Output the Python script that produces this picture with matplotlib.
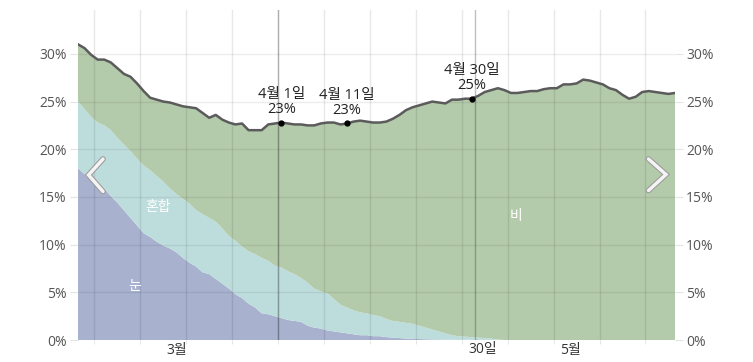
import numpy as np
import matplotlib
matplotlib.use("Agg")
import matplotlib.pyplot as plt
from matplotlib.lines import Line2D
import matplotlib.patheffects as pe

plt.rcParams['font.family'] = ['Open Sans', 'Noto Sans CJK KR', 'DejaVu Sans']

# day 0 = 3월 1일 ... day 91 = 5월 31일, values in %
snow_pct = [18.0, 17.4, 16.9, 16.4, 15.9, 15.1, 14.4, 13.6, 12.8, 12.0,
            11.2, 10.8, 10.3, 9.9, 9.6, 9.2, 8.6, 8.1, 7.7, 7.1,
            6.9, 6.4, 5.9, 5.4, 4.8, 4.4, 3.8, 3.4, 2.8, 2.7,
            2.5, 2.3, 2.1, 2.0, 1.9, 1.5, 1.3, 1.2, 1.0, 0.9,
            0.8, 0.7, 0.6, 0.5, 0.5, 0.4, 0.4, 0.3, 0.25, 0.2,
            0.15, 0.12, 0.1, 0.08, 0.06, 0.05, 0.04, 0.03, 0.02, 0.02,
            0.01] + [0.0] * 31
mixed_pct = [7.0, 6.8, 6.5, 6.4, 6.6, 6.9, 6.8, 6.9, 7.0, 7.0,
             7.1, 7.0, 6.9, 6.7, 6.3, 6.1, 6.2, 6.2, 5.9, 6.1,
             5.9, 6.0, 5.8, 5.5, 5.6, 5.4, 5.5, 5.6, 5.8, 5.6,
             5.3, 5.3, 5.1, 4.9, 4.6, 4.5, 4.1, 3.9, 3.9, 3.4,
             2.9, 2.7, 2.5, 2.4, 2.3, 2.2, 2.1, 1.9, 1.75, 1.7,
             1.65, 1.58, 1.4, 1.22, 1.04, 0.85, 0.66, 0.47, 0.38, 0.33,
             0.29, 0.25, 0.2, 0.15, 0.05] + [0.0] * 27
total_pct = [31.0, 30.6, 29.9, 29.4, 29.4, 29.1, 28.5, 27.9, 27.6, 26.9,
             26.1, 25.4, 25.2, 25.0, 24.9, 24.7, 24.5, 24.4, 24.3, 23.8,
             23.3, 23.6, 23.1, 22.8, 22.6, 22.7, 22.0, 22.0, 22.0, 22.6,
             22.7, 22.8, 22.7, 22.6, 22.6, 22.5, 22.5, 22.7, 22.8, 22.8,
             22.6, 22.7, 22.9, 23.0, 22.9, 22.8, 22.8, 22.9, 23.2, 23.6,
             24.1, 24.4, 24.6, 24.8, 25.0, 24.9, 24.8, 25.2, 25.2, 25.3,
             25.3, 25.6, 26.0, 26.2, 26.4, 26.2, 25.9, 25.9, 26.0, 26.1,
             26.1, 26.3, 26.4, 26.4, 26.8, 26.8, 26.9, 27.3, 27.2, 27.0,
             26.8, 26.4, 26.2, 25.7, 25.3, 25.5, 26.0, 26.1, 26.0, 25.9,
             25.8, 25.9]

highlights = [(31, '4월 1일'), (41, '4월 11일'), (60, '4월 30일')]
month_labels = [(15, '3월'), (75, '5월')]
y_ticks = [0, 5, 10, 15, 20, 25, 30]

days = np.arange(len(total_pct))
snow = np.array(snow_pct)
mixed = np.array(mixed_pct)
rain = np.array(total_pct) - snow - mixed

fig = plt.figure(figsize=(7.53, 3.62), dpi=100)
ax = fig.add_axes([78 / 753, 22 / 362, 597 / 753, 330 / 362])

ax.stackplot(days, snow, mixed, rain,
             colors=['#a8b2cf', '#bddddc', '#b4cbab'], lw=0, zorder=1)

# grid drawn over the fills
for d in np.arange(2.5, 91, 7):
    ax.axvline(d, color='black', alpha=0.09, lw=1, zorder=2)
for d in [30.5, 60.5]:
    ax.axvline(d, color='black', alpha=0.25, lw=1, zorder=2)
for y in y_ticks[1:]:
    ax.axhline(y, color='black', alpha=0.07, lw=1, zorder=2)

ax.plot(days, total_pct, color='#5b5b5b', lw=1.8, zorder=3)

for d, lbl in highlights:
    v = total_pct[d]
    ax.plot(d, v, 'o', color='black', ms=3.5, zorder=4)
    ax.annotate(f'{lbl}\n{v:.0f}%', (d, v), xytext=(0, 4),
                textcoords='offset points', ha='center', va='bottom',
                fontsize=10.5, color='#222222', linespacing=1.0, zorder=5)

ax.text(12.2, 13.9, '혼합', color='white', fontsize=10, ha='center', va='center')
ax.text(8.7, 5.6, '눈', color='white', fontsize=10, ha='center', va='center')
ax.text(66.8, 12.9, '비', color='white', fontsize=10, ha='center', va='center')

ax.set_xlim(0, 91)
ax.set_ylim(0, 34.6)
for s in ax.spines.values():
    s.set_visible(False)

ax.set_yticks(y_ticks)
ax.set_yticklabels([f'{t}%' for t in y_ticks])
ax.tick_params(axis='y', left=True, right=True, labelleft=True, labelright=True,
               length=6, color='#e4e4e4', labelcolor='#555555', labelsize=10, pad=2)

ax.set_xticks([m[0] for m in month_labels])
ax.set_xticklabels([m[1] for m in month_labels])
ax.set_xticks(np.arange(2.5, 91, 7), minor=True)
ax.tick_params(axis='x', which='major', length=0, labelsize=10, labelcolor='#333333', pad=2)
ax.tick_params(axis='x', which='minor', length=3, color='#e0e0e0')
ax.text(61.7, -0.25, '30일', ha='center', va='top', fontsize=10, color='#333333')

# navigation chevrons
for pts in ([(103, 159), (88.5, 175), (103, 191.5)],
            [(648.5, 159), (666, 174.5), (648.5, 190.5)]):
    xs = [p[0] / 753 for p in pts]
    ys = [1 - p[1] / 362 for p in pts]
    ln = Line2D(xs, ys, transform=fig.transFigure, color='#f4f4f4', lw=2.5,
                solid_joinstyle='miter', solid_capstyle='round',
                path_effects=[pe.Stroke(linewidth=4, foreground='#9a9a9a'), pe.Normal()])
    fig.add_artist(ln)

fig.savefig('out.png', dpi=100)
